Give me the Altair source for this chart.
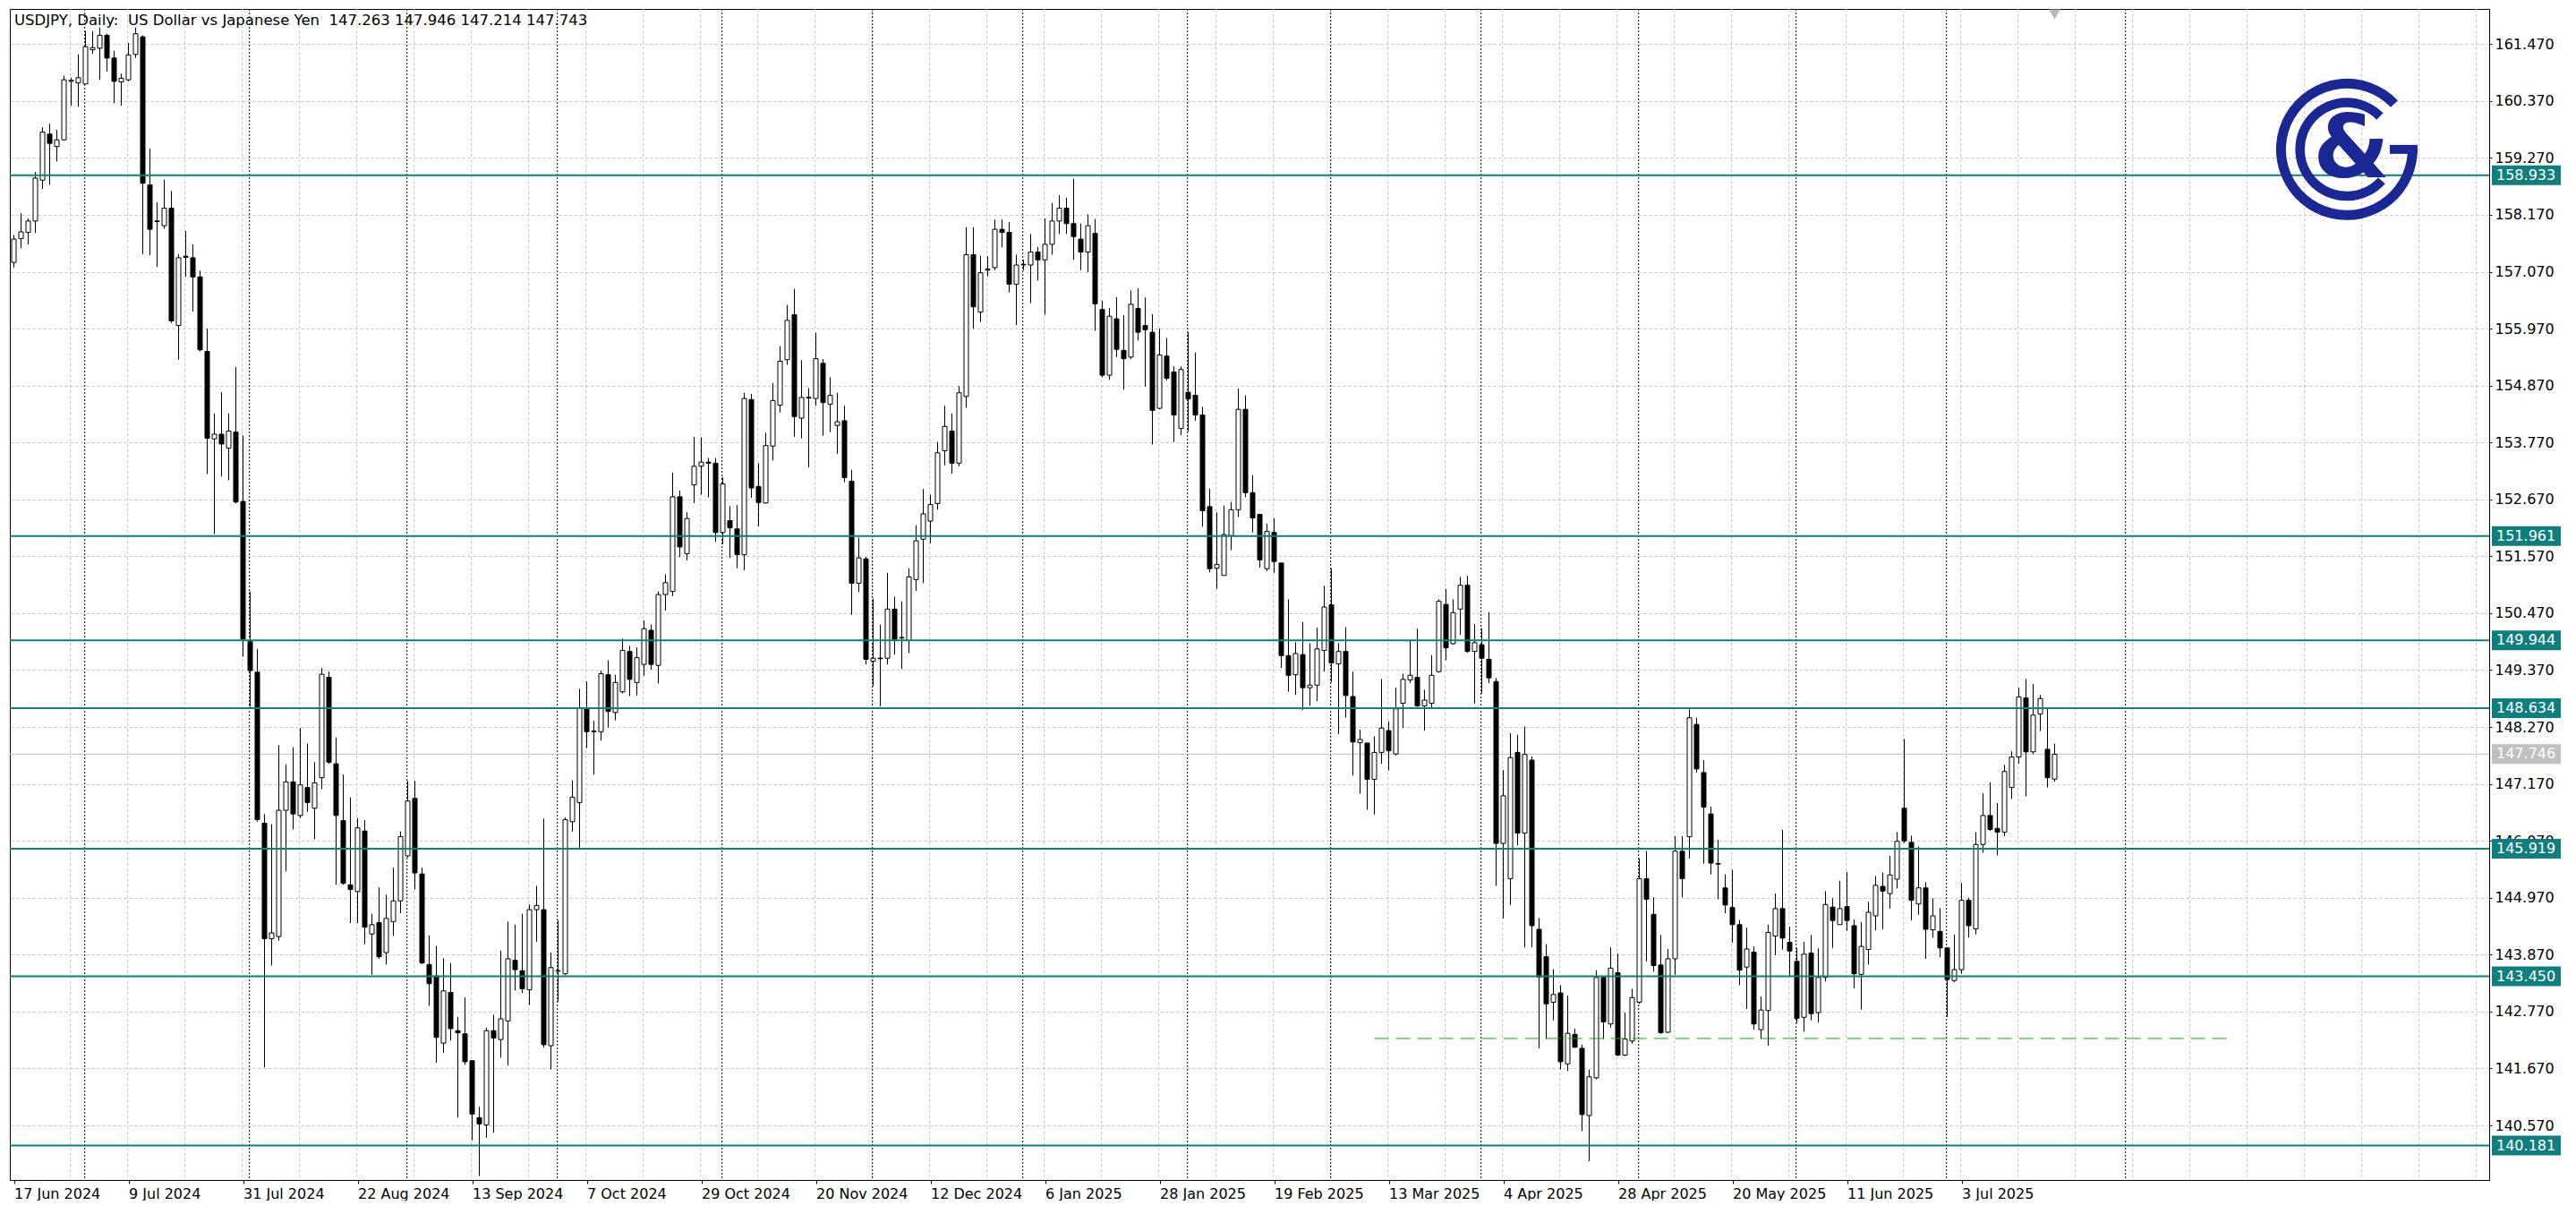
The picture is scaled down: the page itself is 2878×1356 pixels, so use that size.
import altair as alt
import pandas as pd

# ---------------- data ----------------
opens = [
157.25, 157.71, 157.83, 158.05, 158.84, 159.73, 159.49, 159.62, 160.75, 160.72,
160.70, 161.36, 161.39, 161.64, 161.20, 160.74, 160.78, 161.27, 161.61, 158.75,
158.05, 157.96, 158.30, 156.03, 157.37, 157.34, 156.97, 155.53, 153.84, 153.93,
153.66, 153.97, 152.63, 149.92, 149.33, 146.41, 144.18, 144.22, 146.66, 147.21,
146.56, 147.10, 146.70, 147.29, 149.23, 147.56, 146.46, 145.22, 145.09, 146.26,
144.27, 144.49, 143.91, 144.51, 144.91, 145.78, 146.89, 145.43, 143.68, 143.46,
142.16, 143.14, 142.40, 142.34, 141.82, 140.72, 140.58, 142.40, 142.23, 142.59,
143.76, 143.56, 143.19, 144.74, 144.74, 142.11, 143.55, 143.50, 146.44, 146.81,
148.63, 148.18, 148.18, 149.28, 148.55, 148.95, 149.73, 149.13, 149.48, 150.14,
149.46, 150.83, 150.89, 152.72, 151.62, 152.95, 153.31, 153.39, 153.37, 152.03,
152.26, 152.10, 151.60, 154.60, 152.92, 152.60, 153.70, 154.49, 155.37, 156.24,
154.24, 154.64, 154.62, 155.30, 154.51, 154.10, 154.19, 153.02, 151.05, 151.52,
149.54, 149.60, 149.60, 150.55, 149.99, 149.94, 151.12, 151.90, 152.25, 152.59,
153.61, 153.99, 153.37, 154.66, 157.40, 156.29, 157.10, 157.15, 157.89, 157.83,
156.83, 157.20, 157.20, 157.45, 157.30, 157.60, 158.05, 158.30, 158.00, 157.70,
157.45, 157.81, 156.34, 155.07, 156.16, 155.55, 155.42, 156.36, 156.03, 155.90,
154.43, 155.44, 155.13, 154.04, 154.74, 154.68, 154.30, 152.53, 151.34, 151.20,
151.97, 152.47, 154.41, 152.80, 152.38, 151.33, 152.03, 151.44, 149.65, 149.28,
149.67, 149.03, 149.08, 149.75, 150.63, 149.49, 149.73, 148.86, 147.97, 147.96,
147.26, 147.78, 148.20, 147.75, 148.73, 149.18, 149.23, 148.68, 148.73, 149.34,
150.64, 149.88, 150.55, 151.01, 149.73, 149.86, 149.58, 149.15, 146.02, 145.34,
147.78, 146.22, 147.63, 144.36, 143.83, 142.95, 143.13, 141.76, 142.33, 142.06,
140.76, 141.49, 143.43, 142.53, 143.52, 141.93, 142.20, 142.95, 145.34, 144.65,
143.67, 142.37, 143.79, 145.87, 146.15, 148.32, 147.39, 146.59, 145.62, 145.16,
144.78, 144.45, 143.63, 143.92, 142.42, 142.79, 144.23, 144.76, 144.11, 143.74,
142.66, 143.90, 142.75, 143.43, 144.79, 144.45, 144.80, 144.43, 143.49, 143.97,
144.62, 145.19, 145.05, 145.33, 146.70, 146.04, 144.85, 145.16, 144.35, 144.32,
144.00, 143.37, 143.58, 144.92, 144.37, 146.00, 146.56, 146.31, 146.24, 147.10,
147.69, 148.83, 147.79, 148.52, 147.84, 147.263,
]

highs = [
157.78, 158.20, 158.10, 159.00, 159.86, 159.93, 159.81, 160.86, 160.82, 161.27,
161.72, 161.72, 161.79, 161.67, 161.34, 160.90, 161.49, 161.79, 161.64, 159.45,
158.41, 158.85, 158.63, 157.41, 157.86, 157.60, 157.09, 155.97, 154.33, 154.74,
154.33, 155.23, 153.90, 150.89, 149.78, 146.59, 146.39, 147.92, 147.55, 147.88,
148.25, 147.95, 147.59, 149.41, 149.34, 148.07, 147.35, 146.91, 146.51, 146.47,
144.66, 145.17, 145.03, 145.55, 146.25, 147.23, 147.23, 145.55, 144.24, 144.04,
143.80, 143.71, 142.67, 143.04, 141.82, 140.93, 142.46, 142.71, 143.95, 144.51,
144.45, 144.66, 144.84, 145.20, 146.50, 143.91, 144.53, 146.52, 147.24, 149.01,
149.15, 148.39, 149.36, 149.56, 149.28, 149.98, 149.84, 149.81, 150.33, 150.25,
150.89, 151.22, 153.19, 152.84, 152.42, 153.88, 153.87, 153.47, 153.47, 153.10,
152.54, 152.56, 154.73, 154.71, 153.37, 153.96, 154.92, 155.63, 156.43, 156.74,
155.36, 154.82, 155.89, 155.38, 155.03, 154.73, 154.48, 153.24, 151.93, 151.56,
150.75, 150.25, 151.25, 150.79, 150.70, 151.34, 152.17, 152.87, 152.76, 153.78,
154.48, 154.33, 154.86, 157.93, 157.93, 157.38, 157.37, 158.08, 158.08, 158.03,
157.40, 157.30, 157.80, 157.55, 158.10, 158.40, 158.55, 158.50, 158.87, 158.00,
158.18, 158.09, 156.51, 156.37, 156.58, 156.23, 156.71, 156.75, 156.57, 156.25,
155.97, 155.79, 155.24, 155.24, 155.90, 155.51, 154.46, 152.88, 152.42, 152.55,
152.62, 154.81, 154.68, 153.14, 152.38, 152.20, 152.31, 151.44, 150.74, 149.91,
150.30, 149.89, 150.19, 151.00, 151.33, 149.89, 150.20, 149.34, 148.22, 147.96,
148.09, 149.20, 148.38, 149.03, 149.30, 149.95, 150.17, 148.99, 149.66, 150.74,
150.94, 150.74, 151.17, 151.19, 150.26, 150.17, 150.49, 149.22, 147.44, 148.15,
148.12, 148.28, 147.70, 144.58, 144.07, 143.59, 143.28, 143.08, 142.44, 142.13,
141.65, 143.57, 143.43, 144.01, 143.89, 142.75, 143.21, 145.73, 145.87, 144.98,
144.25, 143.98, 146.16, 146.16, 148.61, 148.45, 147.63, 146.73, 146.09, 145.42,
145.51, 144.54, 144.39, 144.03, 143.06, 144.45, 145.05, 146.28, 144.41, 144.00,
144.12, 144.25, 143.99, 145.10, 144.96, 145.30, 145.47, 144.55, 144.50, 144.89,
145.39, 145.46, 145.78, 146.24, 148.04, 146.17, 145.96, 145.27, 144.96, 144.77,
144.00, 144.26, 145.26, 144.97, 146.24, 146.99, 147.20, 146.80, 147.54, 147.80,
149.03, 149.20, 149.10, 148.89, 148.63, 147.946,
]

lows = [
157.15, 157.52, 157.60, 157.82, 158.67, 158.75, 159.20, 159.60, 160.28, 160.26,
160.70, 161.28, 160.78, 160.94, 160.33, 160.28, 160.75, 161.20, 157.41, 157.39,
157.16, 157.90, 156.08, 155.37, 156.97, 156.30, 155.53, 153.16, 152.00, 153.11,
153.04, 152.59, 149.63, 148.66, 146.44, 141.69, 143.66, 144.14, 145.48, 146.29,
146.51, 146.63, 146.10, 147.07, 147.56, 145.22, 145.22, 144.48, 144.48, 144.07,
143.48, 143.79, 143.68, 144.23, 144.67, 145.75, 145.13, 143.69, 142.88, 141.78,
141.97, 142.21, 140.72, 141.74, 140.28, 139.59, 140.33, 140.43, 141.88, 141.73,
143.18, 143.13, 142.90, 144.12, 142.07, 141.65, 142.96, 143.48, 146.25, 145.92,
147.86, 147.35, 148.01, 148.26, 148.40, 148.92, 148.87, 148.88, 149.26, 149.38,
149.11, 150.52, 150.80, 151.55, 151.49, 152.60, 152.76, 152.71, 151.85, 151.80,
151.54, 151.34, 151.30, 152.70, 152.15, 152.59, 153.42, 154.35, 155.27, 153.88,
153.85, 153.29, 154.48, 153.90, 153.97, 153.55, 153.00, 150.44, 150.88, 149.48,
149.06, 148.67, 149.48, 149.67, 149.39, 149.70, 150.90, 151.05, 151.82, 152.47,
153.33, 153.17, 153.31, 154.44, 155.97, 156.10, 156.98, 157.10, 157.54, 156.67,
156.04, 157.10, 156.46, 156.90, 156.24, 157.40, 157.80, 157.80, 157.30, 157.10,
157.06, 155.93, 155.03, 154.98, 155.42, 154.79, 155.38, 155.74, 154.85, 153.73,
154.41, 154.97, 153.78, 153.91, 153.98, 154.19, 152.14, 151.26, 150.94, 151.20,
151.69, 152.33, 152.71, 152.03, 151.35, 151.28, 151.25, 149.41, 148.95, 148.89,
148.60, 148.68, 148.77, 149.34, 149.14, 148.13, 148.45, 147.33, 146.98, 146.67,
146.58, 147.56, 147.43, 147.72, 148.25, 149.12, 148.66, 148.20, 148.62, 149.32,
149.56, 149.86, 150.05, 149.71, 148.72, 148.92, 149.12, 145.20, 144.57, 144.83,
145.98, 144.01, 144.01, 142.06, 142.24, 142.60, 141.65, 141.62, 142.07, 140.46,
139.88, 141.46, 142.24, 142.46, 141.91, 141.91, 142.15, 142.92, 143.74, 143.54,
142.34, 142.36, 143.48, 144.98, 145.73, 147.39, 145.63, 145.42, 144.94, 144.67,
144.10, 143.28, 142.82, 142.42, 142.24, 142.11, 143.86, 143.97, 143.45, 142.55,
142.38, 142.60, 142.56, 143.35, 144.00, 144.45, 144.33, 143.22, 142.81, 143.68,
144.34, 144.36, 144.76, 145.15, 146.03, 144.53, 144.64, 143.79, 144.20, 143.82,
142.67, 143.34, 143.50, 144.20, 144.26, 145.84, 146.26, 145.79, 146.16, 146.88,
147.56, 146.93, 147.75, 148.19, 147.10, 147.214,
]

closes = [
157.70, 157.84, 158.05, 158.88, 159.77, 159.55, 159.62, 160.78, 160.77, 160.82,
161.42, 161.40, 161.64, 161.20, 160.75, 160.81, 161.26, 161.67, 158.78, 157.89,
158.04, 158.30, 156.12, 157.34, 157.35, 156.97, 155.56, 153.85, 153.93, 153.74,
153.99, 152.62, 149.97, 149.36, 146.48, 144.18, 144.29, 146.66, 147.21, 146.59,
147.15, 146.81, 147.19, 149.29, 147.59, 146.56, 145.25, 145.13, 146.32, 144.40,
144.45, 143.83, 144.57, 144.91, 146.15, 146.84, 145.45, 143.71, 143.31, 142.27,
143.17, 142.44, 142.36, 141.80, 140.79, 140.60, 142.40, 142.26, 142.63, 143.79,
143.58, 143.21, 144.74, 144.82, 142.13, 143.62, 143.56, 146.48, 146.91, 148.63,
148.18, 148.19, 149.30, 148.57, 149.13, 149.75, 149.19, 149.61, 150.17, 149.48,
150.83, 151.06, 152.72, 151.75, 152.30, 153.31, 153.39, 153.37, 152.03, 152.97,
152.12, 151.60, 154.62, 152.89, 152.61, 153.71, 154.58, 155.34, 156.13, 154.27,
154.64, 154.63, 155.39, 154.54, 154.68, 154.17, 153.09, 151.05, 151.54, 149.58,
149.60, 149.59, 150.55, 149.96, 150.00, 151.17, 151.87, 152.39, 152.57, 153.57,
154.08, 153.37, 154.73, 157.40, 156.39, 157.05, 157.12, 157.89, 157.83, 156.83,
157.20, 157.20, 157.45, 157.30, 157.60, 158.05, 158.30, 158.00, 157.75, 157.45,
157.96, 156.45, 155.07, 156.21, 155.57, 155.39, 156.44, 155.90, 155.95, 154.39,
155.46, 155.01, 154.30, 155.18, 154.61, 154.30, 152.45, 151.33, 151.41, 151.99,
152.47, 154.41, 152.80, 152.31, 151.50, 152.05, 151.47, 149.65, 149.27, 149.69,
149.03, 149.08, 149.78, 150.59, 149.51, 149.73, 148.88, 147.98, 148.03, 147.26,
147.78, 148.25, 147.81, 148.62, 149.19, 149.27, 148.68, 148.79, 149.27, 150.70,
149.80, 150.48, 151.01, 149.73, 149.90, 149.60, 149.22, 146.02, 146.94, 147.68,
146.22, 147.74, 144.43, 143.44, 142.92, 143.10, 141.80, 142.35, 142.08, 140.78,
141.51, 143.43, 142.57, 143.61, 141.93, 142.24, 143.04, 145.34, 144.94, 143.66,
142.36, 143.79, 145.87, 145.34, 148.45, 147.46, 146.72, 145.64, 145.63, 144.83,
144.45, 143.57, 143.98, 142.53, 142.80, 144.30, 144.76, 144.19, 143.94, 142.64,
143.88, 142.73, 143.43, 144.84, 144.53, 144.76, 144.53, 143.50, 144.03, 144.69,
145.21, 145.10, 145.41, 146.06, 146.07, 144.92, 145.16, 144.36, 144.62, 144.00,
143.39, 143.58, 144.92, 144.43, 146.00, 146.56, 146.29, 146.24, 147.41, 147.69,
148.85, 147.79, 148.50, 148.82, 147.29, 147.743,
]

date_labels = ["17 Jun 2024", "9 Jul 2024", "31 Jul 2024", "22 Aug 2024", "13 Sep 2024",
               "7 Oct 2024", "29 Oct 2024", "20 Nov 2024", "12 Dec 2024", "6 Jan 2025",
               "28 Jan 2025", "19 Feb 2025", "13 Mar 2025", "4 Apr 2025", "28 Apr 2025",
               "20 May 2025", "11 Jun 2025", "3 Jul 2025"]
date_label_bars = [0, 16, 32, 48, 64, 80, 96, 112, 128, 144, 160, 176, 192, 208, 224, 240, 256, 272]
month_start_bars = [10, 33, 55, 76, 99, 120, 141, 164, 184, 205, 227, 249, 270, 295]
price_ticks = [161.47, 160.37, 159.27, 158.17, 157.07, 155.97, 154.87, 153.77, 152.67, 151.57,
               150.47, 149.37, 148.27, 147.17, 146.07, 144.97, 143.87, 142.77, 141.67, 140.57]
level_values = [158.933, 151.961, 149.944, 148.634, 145.919, 143.450, 140.181]
current_price = 147.746
support_price = 142.25
support_from_bar, support_to_bar = 190, 309
header = ("USDJPY,\u00a0Daily:\u00a0\u00a0US\u00a0Dollar\u00a0vs\u00a0Japanese\u00a0Yen\u00a0\u00a0"
          "147.263\u00a0147.946\u00a0147.214\u00a0147.743")

# ---------------- layout / style ----------------
W, H = 2770, 1308
XMIN = -0.5625
XMAX = XMIN + W / 8.0
YMIN, YMAX = 139.515, 162.149
FONT = "DejaVu Sans"
TEAL = "#0f7e7d"
BLUE = "#1b2894"
GRID = "#c4c4c4"

xs = alt.Scale(domain=[XMIN, XMAX], nice=False, zero=False)
ys = alt.Scale(domain=[YMIN, YMAX], nice=False, zero=False)

label_array = "[" + ",".join("'" + s + "'" for s in date_labels) + "]"
x_axis = alt.Axis(values=date_label_bars, labelExpr=label_array + "[round(datum.value/16)]",
                  grid=False, labelAlign="left", labelFont=FONT, labelFontSize=16,
                  labelColor="black", tickColor="black", tickSize=4, domainColor="black",
                  labelPadding=3, labelOverlap=False, labelFlush=False, title=None)
y_axis = alt.Axis(orient="right", values=price_ticks, format=".3f", grid=True,
                  gridColor=GRID, gridDash=[3, 3], gridWidth=1, labelFont=FONT,
                  labelFontSize=16, labelColor="black", tickColor="black", tickSize=3,
                  domainColor="black", labelPadding=3, labelOverlap=False, labelFlush=False,
                  title=None)


def X(f):
    return alt.X(f, type="quantitative", scale=xs, axis=x_axis, title=None)


def Y(f):
    return alt.Y(f, type="quantitative", scale=ys, axis=y_axis, title=None)


# ---------------- frames ----------------
df = pd.DataFrame({"bar": list(range(len(opens))), "open": opens, "high": highs,
                   "low": lows, "close": closes})
df["high"] = df[["open", "high", "close"]].max(axis=1)
df["low"] = df[["open", "low", "close"]].min(axis=1)
df["dir"] = ["up" if c >= o else "down" for o, c in zip(df["open"], df["close"])]
df["b0"] = df[["open", "close"]].min(axis=1)
df["b1"] = df[["open", "close"]].max(axis=1)
small = (df["b1"] - df["b0"]) < 0.012
df.loc[small, "b1"] = df.loc[small, "b0"] + 0.012
df["x0"] = df["bar"] - 0.3125
df["x1"] = df["bar"] + 0.3125

vgrid = pd.DataFrame({"bar": [8 * k - 0.1 for k in range(1, 44)]})
months = pd.DataFrame({"bar": [b - 0.1 for b in month_start_bars]})
levels = pd.DataFrame({"price": level_values, "label": [f"{v:.3f}" for v in level_values]})
cur = pd.DataFrame({"price": [current_price], "label": [f"{current_price:.3f}"]})
supp = pd.DataFrame({"b0": [support_from_bar], "b1": [support_to_bar], "price": [support_price]})
logo = pd.DataFrame({"bar": [325.8], "price": [159.435]})
marker = pd.DataFrame({"bar": [len(opens) - 1], "price": [YMAX]})
head = pd.DataFrame({"t": [header]})

# ---------------- layers ----------------
grid_v = alt.Chart(vgrid).mark_rule(color=GRID, strokeDash=[3, 3], strokeWidth=1).encode(x=X("bar"))
month_v = alt.Chart(months).mark_rule(color="black", strokeDash=[2, 2], strokeWidth=1).encode(x=X("bar"))
cur_line = alt.Chart(cur).mark_rule(color="#c0c0c0", strokeWidth=1).encode(y=Y("price"))

wicks = alt.Chart(df).mark_rule(color="black", strokeWidth=1).encode(
    x=X("bar"), y=Y("low"), y2=alt.Y2("high"))
bodies = alt.Chart(df).mark_rect(stroke="black", strokeWidth=1).encode(
    x=X("x0"), x2=alt.X2("x1"), y=Y("b0"), y2=alt.Y2("b1"),
    fill=alt.Fill("dir:N", scale=alt.Scale(domain=["up", "down"], range=["white", "black"]), legend=None))

level_lines = alt.Chart(levels).mark_rule(color=TEAL, strokeWidth=2).encode(y=Y("price"))
support = alt.Chart(supp).mark_rule(color="#18a018", strokeWidth=1, strokeDash=[16, 8]).encode(
    x=X("b0"), x2=alt.X2("b1"), y=Y("price"))

ring_outer = alt.Chart(logo).mark_arc(color=BLUE, radius=79, radius2=68, theta=1.53, theta2=7.09).encode(
    x=X("bar"), y=Y("price"))
ring_inner = alt.Chart(logo).mark_arc(color=BLUE, radius=57.5, radius2=47, theta=2.30, theta2=7.07).encode(
    x=X("bar"), y=Y("price"))
g_bar = alt.Chart(logo).mark_rect(color=BLUE, xOffset=48, x2Offset=79, yOffset=-5, y2Offset=5).encode(
    x=X("bar"), x2=alt.X2("bar"), y=Y("price"), y2=alt.Y2("price"))
amp = alt.Chart(logo).mark_text(text="&", font=FONT, fontSize=98, fontWeight="bold", color=BLUE,
                                align="center", baseline="middle", dx=5, dy=2).encode(
    x=X("bar"), y=Y("price"))

tri = alt.Chart(marker).mark_point(shape="triangle-down", filled=True, color="#b8b8b8", size=160,
                                   opacity=1, yOffset=6).encode(x=X("bar"), y=Y("price"))

head_txt = alt.Chart(head).mark_text(align="left", baseline="middle", font=FONT, fontSize=16.5,
                                     color="black").encode(x=alt.value(5), y=alt.value(13), text="t:N")

lvl_box = alt.Chart(levels).mark_rect(color=TEAL, yOffset=-11, y2Offset=11).encode(
    x=alt.value(W + 3), x2=alt.value(W + 80), y=Y("price"), y2=alt.Y2("price"))
lvl_txt = alt.Chart(levels).mark_text(align="left", baseline="middle", font=FONT, fontSize=16,
                                      color="white").encode(x=alt.value(W + 8), y=Y("price"), text="label:N")
cur_box = alt.Chart(cur).mark_rect(color="#c0c0c0", yOffset=-11, y2Offset=11).encode(
    x=alt.value(W + 3), x2=alt.value(W + 80), y=Y("price"), y2=alt.Y2("price"))
cur_txt = alt.Chart(cur).mark_text(align="left", baseline="middle", font=FONT, fontSize=16,
                                   color="white").encode(x=alt.value(W + 8), y=Y("price"), text="label:N")

chart = alt.layer(
    grid_v, month_v, cur_line, wicks, bodies, level_lines, support,
    ring_outer, ring_inner, g_bar, amp, tri, head_txt,
    lvl_box, lvl_txt, cur_box, cur_txt,
).properties(
    width=W, height=H, padding={"left": 2, "top": 1, "right": 2, "bottom": 0},
    background="white",
).configure_view(stroke="black", strokeWidth=1)

chart.save("out.html", embed_options={"renderer": "svg", "actions": False})
